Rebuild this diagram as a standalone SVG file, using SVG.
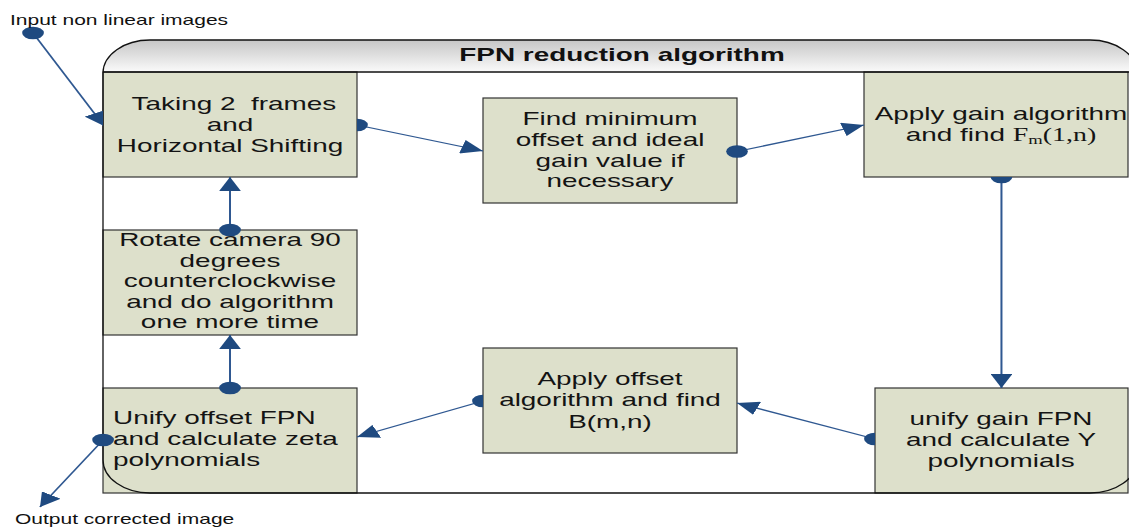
<svg xmlns="http://www.w3.org/2000/svg" width="1129" height="527" viewBox="0 0 1129 527">
  <style>
    .box { fill: #dde0cb; stroke: #333333; stroke-width: 1.2; }
    .txt { font-family: "Liberation Sans", Arial, sans-serif; font-size: 18px; fill: #141414; text-anchor: middle; }
    .left { text-anchor: start; }
    .title { font-family: "Liberation Sans", Arial, sans-serif; font-size: 18px; font-weight: bold; fill: #111111; text-anchor: middle; }
    .lbl { font-family: "Liberation Sans", Arial, sans-serif; font-size: 14px; fill: #111111; }
    .serif { font-family: "Liberation Serif", "Times New Roman", serif; }
    .frame { fill: none; stroke: #111111; stroke-width: 1.3; }
    .link { fill: none; stroke: #2f5891; stroke-width: 1.3; marker-start: url(#dot); marker-end: url(#tri); }
  </style>
  <defs>
    <linearGradient id="headerFill" x1="0" y1="0" x2="0" y2="1">
      <stop offset="0" stop-color="#c6c6c6"/>
      <stop offset="1" stop-color="#fcfcfc"/>
    </linearGradient>
    <marker id="dot" markerUnits="userSpaceOnUse" viewBox="-8 -7 16 14" markerWidth="16" markerHeight="14" refX="0" refY="0" overflow="visible">
      <ellipse rx="7" ry="6.3" fill="#1f4a80"/>
    </marker>
    <marker id="tri" markerUnits="userSpaceOnUse" viewBox="0 0 14 14" markerWidth="14" markerHeight="14" refX="14" refY="7" orient="auto">
      <path d="M0 0L14 7L0 14Z" fill="#1f4a80"/>
    </marker>
    <!-- everything except the step boxes -->
    <clipPath id="outside-nodes">
      <path clip-rule="evenodd" d="M0 0H1129V527H0Z M103 72H357V177H103Z M483 98H737V203H483Z M864 72H1128V177H864Z M875 388H1128V493H875Z M483 348H737V453H483Z M103 388H357V493H103Z M103 230H357V335H103Z"/>
    </clipPath>
  </defs>

  <!-- container body and header band -->
  <g id="container">
    <path d="M103 73A47 33 0 0 1 150 40H1090A47 33 0 0 1 1137 73V460A47 33 0 0 1 1090 493H150A47 33 0 0 1 103 460Z" fill="#ffffff"/>
    <path d="M103 73A47 33 0 0 1 150 40H1090A47 33 0 0 1 1137 73Z" fill="url(#headerFill)"/>
    <text class="title" transform="translate(622 0) scale(1.55 1)" x="0" y="61">FPN reduction algorithm</text>
  </g>

  <g id="n1">
    <rect class="box" x="103" y="72" width="254" height="105"/>
    <text class="txt" transform="translate(230 0) scale(1.55 1)"><tspan x="2.5" y="110">Taking 2&#160; frames</tspan><tspan x="0" y="131">and</tspan><tspan x="0" y="152">Horizontal Shifting</tspan></text>
  </g>

  <g id="n2">
    <rect class="box" x="483" y="98" width="254" height="105"/>
    <text class="txt" transform="translate(610 0) scale(1.55 1)"><tspan x="0" y="125">Find minimum</tspan><tspan x="0" y="146">offset and ideal</tspan><tspan x="0" y="167">gain value if</tspan><tspan x="0" y="187">necessary</tspan></text>
  </g>

  <g id="n3">
    <rect class="box" x="864" y="72" width="264" height="105"/>
    <text class="txt" transform="translate(1001 0) scale(1.55 1)"><tspan x="0" y="120">Apply gain algorithm</tspan><tspan x="0" y="141">and find <tspan class="serif">F</tspan><tspan class="serif" font-size="12" dy="3">m</tspan><tspan class="serif" dy="-3">(1,n)</tspan></tspan></text>
  </g>

  <g id="n4">
    <rect class="box" x="875" y="388" width="253" height="105"/>
    <text class="txt" transform="translate(1001 0) scale(1.55 1)"><tspan x="0" y="425">unify gain FPN</tspan><tspan x="0" y="446">and calculate Y</tspan><tspan x="0" y="467">polynomials</tspan></text>
  </g>

  <g id="n5">
    <rect class="box" x="483" y="348" width="254" height="105"/>
    <text class="txt" transform="translate(610 0) scale(1.55 1)"><tspan x="0" y="385">Apply offset</tspan><tspan x="0" y="406">algorithm and find</tspan><tspan x="0" y="428">B(m,n)</tspan></text>
  </g>

  <g id="n6">
    <rect class="box" x="103" y="388" width="254" height="105"/>
    <text class="txt left" transform="translate(113 0) scale(1.55 1)"><tspan x="0" y="424">Unify offset FPN</tspan><tspan x="0" y="445">and calculate zeta</tspan><tspan x="0" y="466">polynomials</tspan></text>
  </g>

  <g id="n7">
    <rect class="box" x="103" y="230" width="254" height="105"/>
    <text class="txt" transform="translate(230 0) scale(1.55 1)"><tspan x="0" y="246">Rotate camera 90</tspan><tspan x="0" y="267">degrees</tspan><tspan x="0" y="287">counterclockwise</tspan><tspan x="0" y="308">and do algorithm</tspan><tspan x="0" y="328">one more time</tspan></text>
  </g>

  <!-- outer frame line drawn over the boxes -->
  <g id="frame">
    <path class="frame" d="M103 73A47 33 0 0 1 150 40H1090A47 33 0 0 1 1137 73V460A47 33 0 0 1 1090 493H150A47 33 0 0 1 103 460Z"/>
    <line class="frame" x1="103" y1="72" x2="1137" y2="72"/>
  </g>

  <!-- connectors: drawn in a horizontally compressed space, stretched by 1.55 -->
  <g id="connectors">
    <g clip-path="url(#outside-nodes)">
      <g transform="scale(1.55 1)">
        <path class="link" d="M21.3 33L67.1 126"/>
        <path class="link" d="M230.3 125L311.6 151"/>
        <path class="link" d="M646.1 177V388"/>
        <path class="link" d="M564.5 439L475.5 403"/>
        <path class="link" d="M311.6 401L230.3 437"/>
      </g>
    </g>
    <g transform="scale(1.55 1)">
      <path class="link" d="M475.5 151.5L557.4 125"/>
      <path class="link" d="M148.4 388V335"/>
      <path class="link" d="M148.4 230V177"/>
      <path class="link" d="M66.5 440L25.8 507"/>
    </g>
  </g>

  <g id="labels">
    <text class="lbl" transform="translate(10 0) scale(1.5 1)" x="0" y="25">Input non linear images</text>
    <text class="lbl" transform="translate(15 0) scale(1.5 1)" x="0" y="524">Output corrected image</text>
  </g>
</svg>
